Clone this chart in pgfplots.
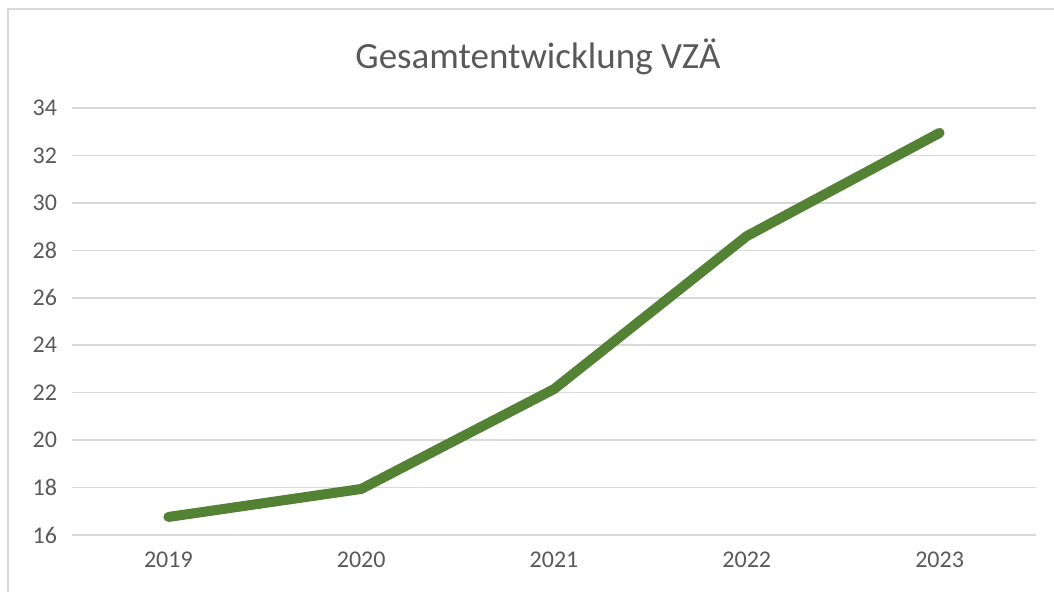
\documentclass[border=0pt]{standalone}
\usepackage{fontspec}
\setmainfont{Carlito}
\usepackage{pgfplots}
\pgfplotsset{compat=1.18}
\definecolor{gridgrey}{HTML}{D9D9D9}
\definecolor{txtgrey}{HTML}{595959}
\definecolor{linegreen}{HTML}{548235}
\begin{document}
\begin{tikzpicture}
\path[use as bounding box] (0,0) rectangle (527pt,296pt);
\draw[gridgrey, line width=1pt] (4pt,-2pt) -- (4pt,291.5pt) -- (530pt,291.5pt);
\node[txtgrey, font=\fontsize{18.5}{20}\selectfont] at (269pt,267.5pt) {Gesamtentwicklung VZÄ};
\begin{axis}[
  at={(36pt,28.5pt)}, anchor=south west,
  scale only axis, width=482pt, height=213.5pt,
  xmin=-0.5, xmax=4.5, ymin=16, ymax=34,
  xtick={0,1,2,3,4},
  xticklabels={2019,2020,2021,2022,2023},
  ytick={16,18,...,34},
  ymajorgrids, grid style={gridgrey, line width=0.75pt},
  axis line style={draw=none},
  tick style={draw=none},
  tick label style={txtgrey, font=\fontsize{12}{14}\selectfont},
  /pgf/number format/assume math mode=true,
  yticklabel style={xshift=-4pt},
  xticklabel style={yshift=-5pt},
  clip=false,
]
\addplot[linegreen, line width=5pt, line cap=round, line join=round] coordinates {
  (0,16.76) (1,17.94) (2,22.15) (3,28.6) (4,32.95)
};
\end{axis}
\end{tikzpicture}
\end{document}
